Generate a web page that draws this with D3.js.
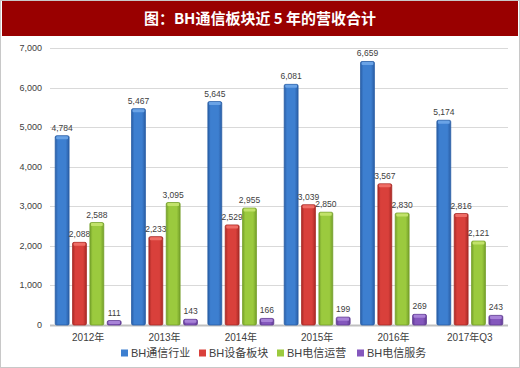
<!DOCTYPE html>
<html>
<head>
<meta charset="utf-8">
<script src="https://cdn.jsdelivr.net/npm/d3@7"></script>
<style>
  body { margin: 0; background: #fff; }
  svg { display: block; font-family: "Liberation Sans", "Noto Sans CJK SC", sans-serif; }
</style>
</head>
<body>
<svg id="chart" width="520" height="368"></svg>
<script>
// chart data
const categories = ["2012年", "2013年", "2014年", "2015年", "2016年", "2017年Q3"];
const seriesNames = ["BH通信行业", "BH设备板块", "BH电信运营", "BH电信服务"];
const telecomIndustry = [4784, 5467, 5645, 6081, 6659, 5174];
const equipment = [2088, 2233, 2529, 3039, 3567, 2816];
const operators = [2588, 3095, 2955, 2850, 2830, 2121];
const services = [111, 143, 166, 199, 269, 243];
const yTicks = [0, 1000, 2000, 3000, 4000, 5000, 6000, 7000];

const seriesValues = [telecomIndustry, equipment, operators, services];
const colors = [
    { mid: "#3d7fd0", dark: "#2a5ea6", light: "#6aa3e6" },
    { mid: "#d9403b", dark: "#a82a26", light: "#ef6d66" },
    { mid: "#9bca3e", dark: "#75a02a", light: "#c2e26a" },
    { mid: "#8457bd", dark: "#5f3a92", light: "#a883d8" }
];

const svg = d3.select("#chart");
const W = 520, H = 368;
const margin = { left: 50, right: 12, top: 48, bottom: 43 };

// outer frame
svg.append("rect")
    .attr("x", 0.5).attr("y", 0.5)
    .attr("width", W - 1).attr("height", H - 1)
    .attr("fill", "#fff")
    .attr("stroke", "#c8c8c8");

// title bar
svg.append("rect")
    .attr("x", 2).attr("y", 1)
    .attr("width", W - 4).attr("height", 35)
    .attr("fill", "#990000");

svg.append("text")
    .attr("x", W / 2).attr("y", 24)
    .attr("text-anchor", "middle")
    .attr("fill", "#fff")
    .attr("font-size", "15px")
    .attr("font-weight", "bold")
    .attr("font-family", "'Noto Sans CJK SC', serif")
    .text("图：BH通信板块近 5 年的营收合计");

const x = d3.scaleBand()
    .domain(categories)
    .range([margin.left, W - margin.right]);

const x1 = d3.scaleBand()
    .domain(d3.range(seriesNames.length))
    .range([0, x.bandwidth()])
    .paddingInner(0.2)
    .paddingOuter(0.3);

const y = d3.scaleLinear()
    .domain([0, 7000])
    .range([H - margin.bottom, margin.top]);

// gradients for glossy bars
const defs = svg.append("defs");
colors.forEach((c, i) => {
    const g = defs.append("linearGradient")
        .attr("id", "grad" + i)
        .attr("x1", "0%").attr("x2", "100%");
    g.append("stop").attr("offset", "0%").attr("stop-color", c.dark);
    g.append("stop").attr("offset", "20%").attr("stop-color", c.mid);
    g.append("stop").attr("offset", "75%").attr("stop-color", c.mid);
    g.append("stop").attr("offset", "100%").attr("stop-color", c.dark);
});

// gridlines
svg.append("g")
    .selectAll("line")
    .data(yTicks)
    .enter().append("line")
    .attr("x1", margin.left)
    .attr("x2", W - margin.right)
    .attr("y1", d => Math.round(y(d)) + 0.5)
    .attr("y2", d => Math.round(y(d)) + 0.5)
    .attr("stroke", d => d === 0 ? "#c0c0c0" : "#d9d9d9")
    .attr("stroke-width", d => d === 0 ? 2 : 1);

// y tick labels
svg.append("g")
    .selectAll("text")
    .data(yTicks)
    .enter().append("text")
    .attr("x", 42)
    .attr("y", d => y(d) + 3)
    .attr("text-anchor", "end")
    .attr("font-size", "9px")
    .attr("fill", "#404040")
    .text(d => d3.format(",")(d));

// bars
const groups = svg.append("g")
    .selectAll("g")
    .data(categories)
    .enter().append("g")
    .attr("transform", d => `translate(${x(d)},0)`);

const cells = groups.selectAll("g")
    .data((cat, ci) => seriesValues.map((vals, si) => ({ si, v: vals[ci] })))
    .enter().append("g");

cells.append("rect")
    .attr("x", d => x1(d.si))
    .attr("y", d => y(d.v))
    .attr("width", x1.bandwidth())
    .attr("height", d => y(0) - y(d.v))
    .attr("rx", 1.5)
    .attr("fill", d => `url(#grad${d.si})`)
    .attr("stroke", d => colors[d.si].dark)
    .attr("stroke-width", 0.8);

// light cap at top of each bar
cells.append("rect")
    .attr("x", d => x1(d.si) + 1)
    .attr("y", d => y(d.v) + 0.5)
    .attr("width", x1.bandwidth() - 2)
    .attr("height", 3)
    .attr("rx", 1)
    .attr("fill", d => colors[d.si].light);

cells.append("text")
    .attr("x", d => x1(d.si) + x1.bandwidth() / 2)
    .attr("y", d => y(d.v) - 5)
    .attr("text-anchor", "middle")
    .attr("font-size", "8.5px")
    .attr("fill", "#404040")
    .text(d => d3.format(",")(d.v));

// category labels
svg.append("g")
    .selectAll("text")
    .data(categories)
    .enter().append("text")
    .attr("x", d => x(d) + x.bandwidth() / 2)
    .attr("y", 341)
    .attr("text-anchor", "middle")
    .attr("font-size", "10px")
    .attr("fill", "#404040")
    .text(d => d);

// legend
const legendX = [121, 199, 277, 357];
const legend = svg.append("g")
    .selectAll("g")
    .data(seriesNames)
    .enter().append("g")
    .attr("transform", (d, i) => `translate(${legendX[i]},353)`);

legend.append("rect")
    .attr("x", 0).attr("y", -3.5)
    .attr("width", 7).attr("height", 7)
    .attr("fill", (d, i) => colors[i].mid);

legend.append("text")
    .attr("x", 10).attr("y", 4)
    .attr("font-size", "11px")
    .attr("fill", "#404040")
    .text(d => d);
</script>
</body>
</html>
